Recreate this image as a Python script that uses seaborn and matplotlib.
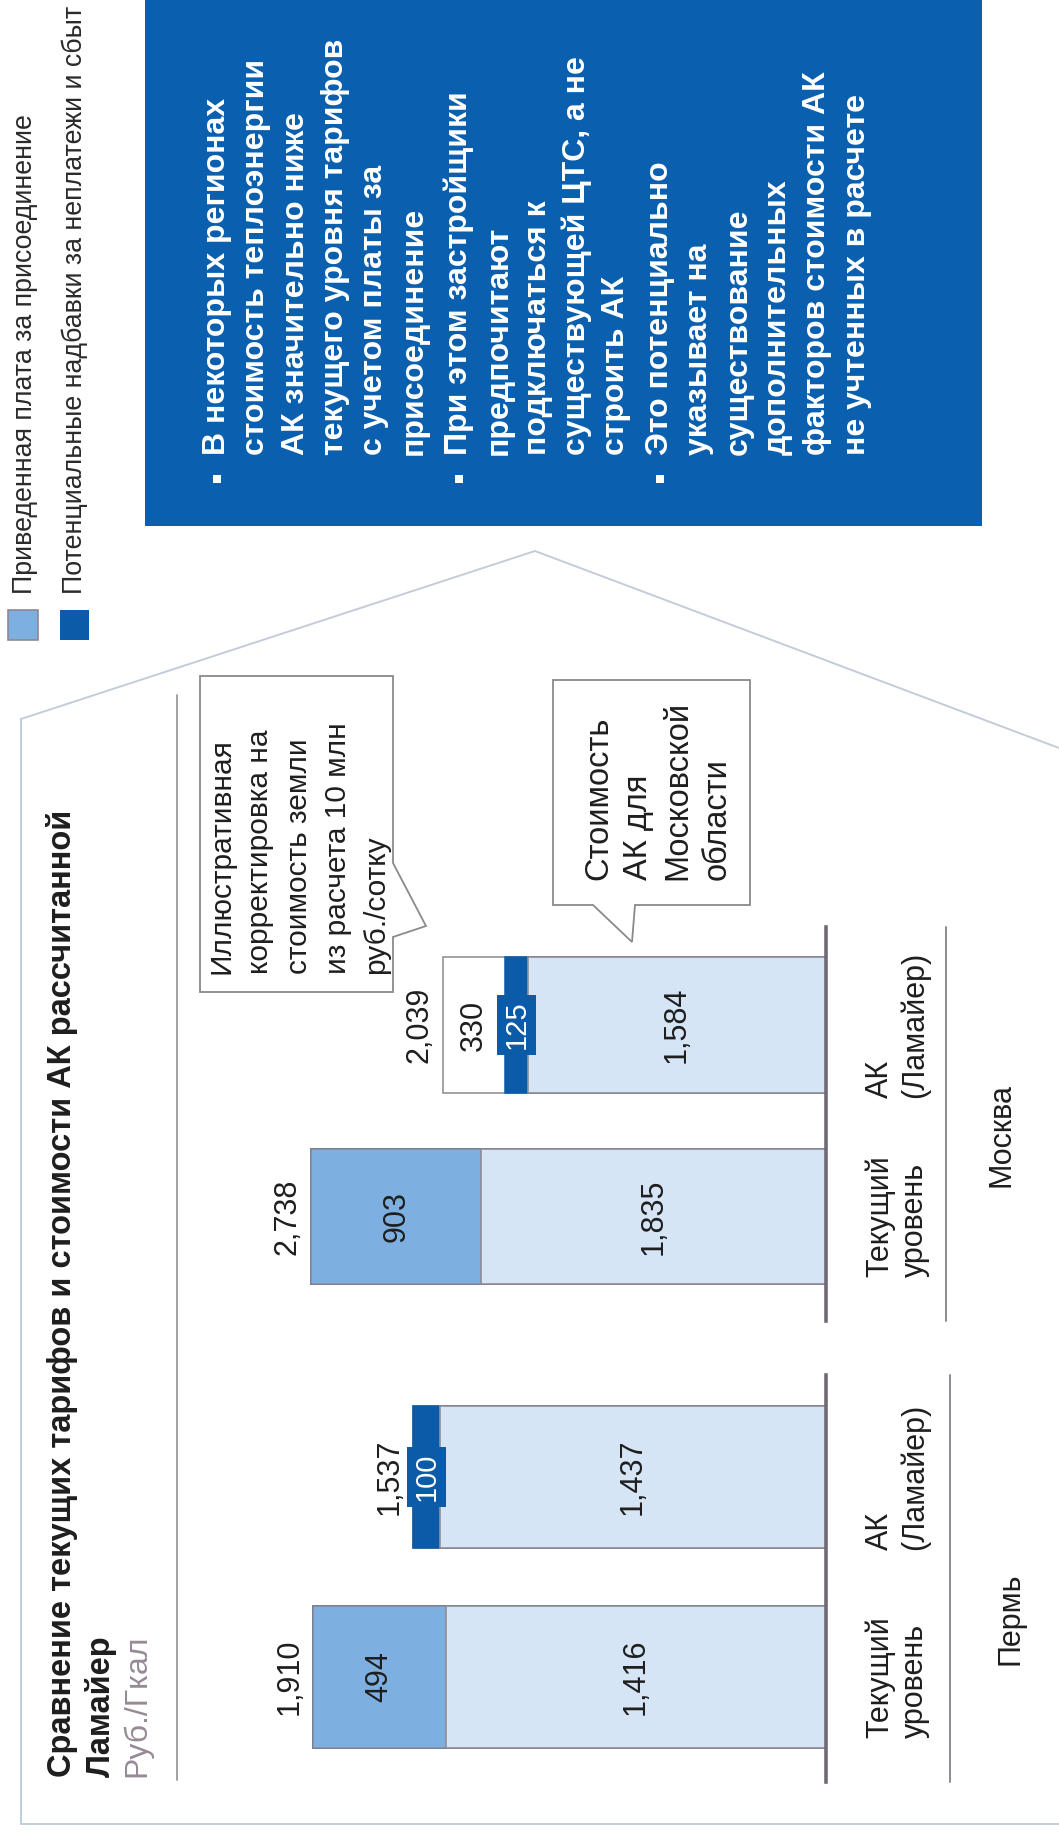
import matplotlib
matplotlib.use("Agg")
import matplotlib.pyplot as plt
import pandas as pd
import seaborn as sns
from matplotlib.patches import Rectangle, Polygon
from matplotlib.lines import Line2D

sns.set_theme(style="white")
plt.rcParams["font.family"] = ["Liberation Sans", "DejaVu Sans"]

# ---------------- data ----------------
bar_labels = ["АК\n(Ламайер)", "Текущий\nуровень"]
cities = ["Пермь", "Москва"]

perm_base = [1437, 1416]
perm_fee = [0, 494]
perm_surcharge = [100, 0]
perm_land = [0, 0]

moscow_base = [1584, 1835]
moscow_fee = [0, 903]
moscow_surcharge = [125, 0]
moscow_land = [330, 0]

legend_labels = ["Приведенная плата за присоединение",
                 "Потенциальные надбавки за неплатежи и сбыт"]
title_lines = ["Сравнение текущих тарифов и стоимости АК рассчитанной",
               "Ламайер"]
unit_label = "Руб./Гкал"
land_note = ["Иллюстративная", "корректировка на", "стоимость земли",
             "из расчета 10 млн", "руб./сотку"]
region_note = ["Стоимость", "АК для", "Московской", "области"]
bullets = [
    ["В некоторых регионах", "стоимость теплоэнергии", "АК значительно ниже",
     "текущего уровня тарифов", "с учетом платы за", "присоединение"],
    ["При этом застройщики", "предпочитают", "подключаться к",
     "существующей ЦТС, а не", "строить АК"],
    ["Это потенциально", "указывает на", "существование", "дополнительных",
     "факторов стоимости АК", "не учтенных в расчете"],
]

# ---------------- style ----------------
LIGHT = "#d5e5f5"
MID = "#7db0e1"
DARK = "#0b5ba8"
BOX_BLUE = "#0a5fae"
EDGE = "#8d8892"
TEXT = "#1e1e1e"
FRAME = "#c3cdd8"
FS = 22

W, H = 1059, 1832
fig = plt.figure(figsize=(W / 100, H / 100), dpi=100)
fig.patch.set_facecolor("white")

# pixel-space canvas for the frame, notes and captions
bg = fig.add_axes([0, 0, 1, 1])
bg.set_xlim(0, W)
bg.set_ylim(H, 0)
bg.axis("off")


def px_rect(x0, y0, x1, y1):
    return [x0 / W, 1 - y1 / H, (x1 - x0) / W, (y1 - y0) / H]


def vtext(x, y, s, **kw):
    bg.text(x, y, s, rotation=90, rotation_mode="anchor", ha="left",
            va="center", **kw)


# outer frame with the pointed roof towards the comment box
bg.add_line(Line2D([21, 21, W], [719, 1824, 1824], color=FRAME, lw=1.4))
bg.add_line(Line2D([21, 535, W], [719, 551, 748], color=FRAME, lw=1.4))

# comment box
bg.add_patch(Rectangle((145, 0), 982 - 145, 526, fc=BOX_BLUE, ec="none"))
line_gap = 39.3
starts = [217, 459, 660]
for block, x0 in zip(bullets, starts):
    bg.add_patch(Rectangle((x0 - 4, 475), 8, 8, fc="white", ec="none"))
    for k, line in enumerate(block):
        vtext(x0 + k * line_gap, 455, line, color="white", fontsize=23,
              fontweight="bold")

# legend
bg.add_patch(Rectangle((8, 610), 30, 30, fc=MID, ec=EDGE, lw=1.2))
bg.add_patch(Rectangle((60, 610), 29, 30, fc=DARK, ec="none"))
vtext(25, 594, legend_labels[0], color="#2a2a2a", fontsize=19.3)
vtext(75, 594, legend_labels[1], color="#2a2a2a", fontsize=19.3)

# title block
vtext(62, 1777, title_lines[0], color=TEXT, fontsize=23.5, fontweight="bold")
vtext(101, 1777, title_lines[1], color=TEXT, fontsize=23.5, fontweight="bold")
vtext(137, 1777, unit_label, color="#958a96", fontsize=23)
bg.add_line(Line2D([177, 177], [695, 1780], color="#9a9a9a", lw=1.3))

# callout notes
bg.add_patch(Polygon([(200, 676), (393, 676), (393, 863), (426, 926),
                      (393, 937), (393, 992), (200, 992)],
                     closed=True, fc="white", ec="#8a8a8a", lw=1.3))
for k, line in enumerate(land_note):
    vtext(222 + k * 38.5, 974, line, color=TEXT, fontsize=21.5)

bg.add_patch(Polygon([(553, 680), (750, 680), (750, 905), (635, 905),
                      (632, 942), (593, 905), (553, 905)],
                     closed=True, fc="white", ec="#8a8a8a", lw=1.3))
for k, line in enumerate(region_note):
    vtext(599 + k * 39.3, 880, line, color=TEXT, fontsize=23.5)


def draw_city(x_left, x_base, y_top, y_bottom, centers, px_per_unit,
              base, fee, surcharge, land, city, city_xy, sep_x):
    ax = fig.add_axes(px_rect(x_left, y_top, x_base, y_bottom))
    ax.patch.set_visible(False)
    df = pd.DataFrame({"bar": bar_labels, "base": base, "fee": fee,
                       "surcharge": surcharge, "land": land})
    df["upto_fee"] = df["base"] + df["fee"]
    df["upto_surcharge"] = df["upto_fee"] + df["surcharge"]
    df["total"] = df["upto_surcharge"] + df["land"]

    # stacked bars drawn as overlapping cumulative layers
    layers = [("total", "white", EDGE), ("upto_surcharge", DARK, DARK),
              ("upto_fee", MID, EDGE), ("base", LIGHT, EDGE)]
    step = centers[1] - centers[0]
    for col, fc, ec in layers:
        sns.barplot(data=df, x=col, y="bar", orient="h", color=fc,
                    saturation=1, edgecolor=ec, linewidth=1.1, width=0.71,
                    errorbar=None, ax=ax)

    ax.set_xlim((x_base - x_left) / px_per_unit, 0)
    ax.set_ylim((y_bottom - centers[0]) / step, (y_top - centers[0]) / step)

    for i, r in df.iterrows():
        start = 0
        for key in ["base", "fee", "surcharge", "land"]:
            v = int(r[key])
            if v <= 0:
                continue
            c = start + v / 2
            if key == "surcharge":
                ax.text(c, i, f"{v:,}", rotation=90, ha="center", va="center",
                        color="white", fontsize=FS - 1,
                        bbox=dict(boxstyle="square,pad=0.2", fc=DARK, ec="none"))
            else:
                ax.text(c, i, f"{v:,}", rotation=90, ha="center", va="center",
                        color=TEXT, fontsize=FS)
            start += v
        ax.annotate(f"{int(r['total']):,}", xy=(r["total"], i),
                    xytext=(-17, 0), textcoords="offset points", rotation=90,
                    ha="center", va="center", fontsize=FS, color=TEXT)

    ax.set_xlabel("")
    ax.set_ylabel("")
    ax.set_xticks([])
    ax.yaxis.tick_right()
    ax.set_yticks(range(len(bar_labels)), labels=bar_labels)
    ax.tick_params(axis="y", length=0, pad=28, labelsize=FS,
                   labelcolor=TEXT, labelrotation=90)
    for lab in ax.get_yticklabels():
        lab.set_verticalalignment("center")
        lab.set_multialignment("left")
    for s in ["left", "top", "bottom"]:
        ax.spines[s].set_visible(False)
    ax.spines["right"].set_color("#6f6a74")
    ax.spines["right"].set_linewidth(2.6)

    bg.add_line(Line2D([sep_x, sep_x], [y_top, y_bottom], color="#8f8a92",
                       lw=1.4))
    bg.text(city_xy[0], city_xy[1], city, rotation=90, ha="center",
            va="center", fontsize=FS, color=TEXT)
    return ax


draw_city(150, 826, 1375, 1782, (1477, 1677), 0.2686,
          perm_base, perm_fee, perm_surcharge, perm_land,
          cities[0], (1010, 1619), 950)
draw_city(150, 826, 927, 1321, (1025, 1216.5), 0.188,
          moscow_base, moscow_fee, moscow_surcharge, moscow_land,
          cities[1], (1002, 1135), 946)

fig.savefig("out.png", dpi=100, facecolor="white")
